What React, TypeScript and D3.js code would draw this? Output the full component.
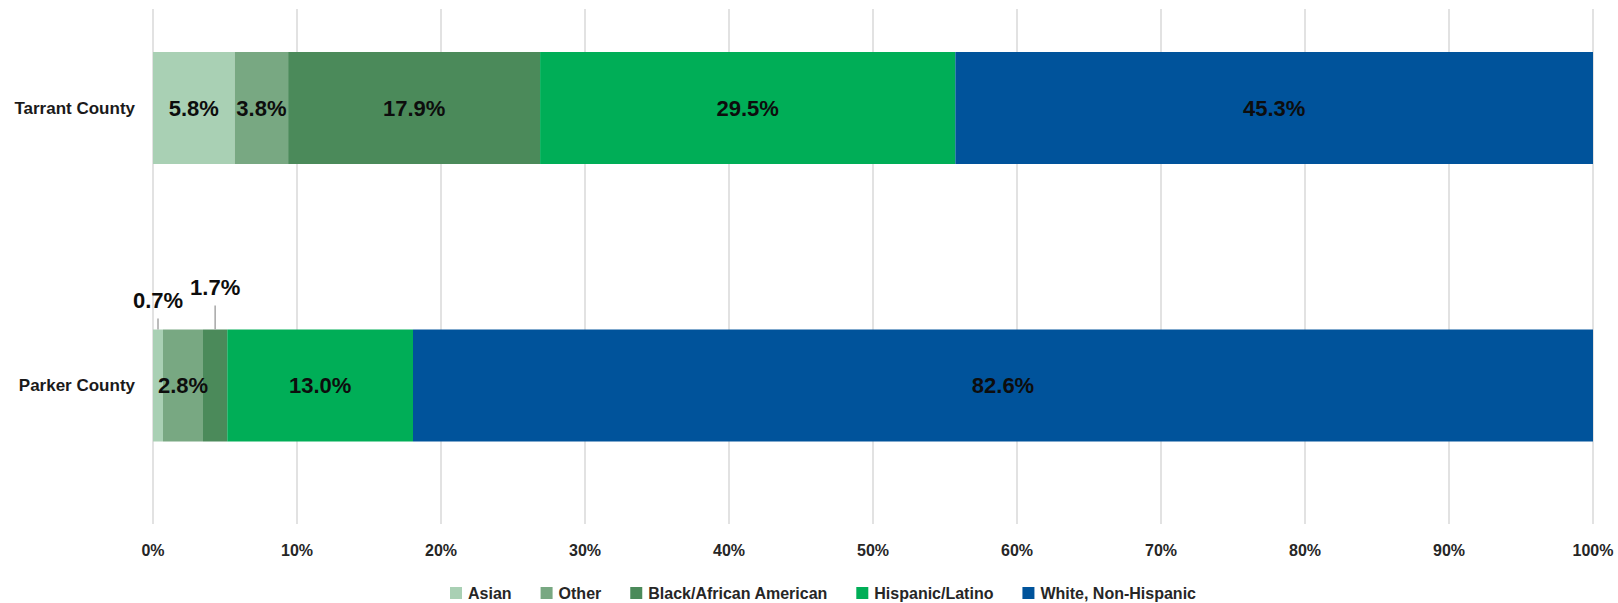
import React, { useEffect, useRef } from 'react';
import * as d3 from 'd3';

// Values (percent of population)
const counties = ["Tarrant County", "Parker County"];
const seriesNames = ["Asian", "Other", "Black/African American", "Hispanic/Latino", "White, Non-Hispanic"];
const asian = [5.8, 0.7];
const other = [3.8, 2.8];
const black = [17.9, 1.7];
const hispanic = [29.5, 13.0];
const white = [45.3, 82.6];
const seriesColors = ["#a9d0b4", "#78a882", "#4b8a5a", "#00ae57", "#00539b"];
const xTickValues = [0, 0.1, 0.2, 0.3, 0.4, 0.5, 0.6, 0.7, 0.8, 0.9, 1];

const App: React.FC = () => {
    const ref = useRef<SVGSVGElement>(null);

    useEffect(() => {
        const svg = d3.select(ref.current);
        svg.selectAll("*").remove();

        const width = 1618;
        const height = 603;
        const plotLeft = 153;
        const plotRight = 1593;
        const gridTop = 9;
        const gridBottom = 524;
        const barHeight = 112;
        const font = "'Liberation Sans', Arial, sans-serif";

        // Build rows for the stack
        const cols = [asian, other, black, hispanic, white];
        const rows = counties.map((c, i) => {
            const row: any = { county: c };
            seriesNames.forEach((s, j) => { row[s] = cols[j][i]; });
            return row;
        });

        // 100% stacked
        const stacked = d3.stack().keys(seriesNames).offset(d3.stackOffsetExpand)(rows);

        const x = d3.scaleLinear().domain([0, 1]).range([plotLeft, plotRight]);
        const y = d3.scalePoint().domain(counties).range([108, 385.5]);
        const color = d3.scaleOrdinal<string>().domain(seriesNames).range(seriesColors);

        svg.attr("viewBox", [0, 0, width, height])
            .style("font-family", font);

        // Vertical gridlines
        svg.append("g")
            .selectAll("line")
            .data(xTickValues)
            .join("line")
            .attr("x1", d => x(d))
            .attr("x2", d => x(d))
            .attr("y1", gridTop)
            .attr("y2", gridBottom)
            .attr("stroke", "#d9d9d9")
            .attr("stroke-width", 1.5);

        // X tick labels
        svg.append("g")
            .selectAll("text")
            .data(xTickValues)
            .join("text")
            .attr("x", d => x(d))
            .attr("y", 550)
            .attr("dy", "0.35em")
            .attr("text-anchor", "middle")
            .attr("font-size", 16)
            .attr("font-weight", "bold")
            .attr("fill", "#262626")
            .text(d => d3.format(".0%")(d));

        // County labels
        svg.append("g")
            .selectAll("text")
            .data(counties)
            .join("text")
            .attr("x", 135)
            .attr("y", d => y(d))
            .attr("dy", "0.35em")
            .attr("text-anchor", "end")
            .attr("font-size", 17)
            .attr("font-weight", "bold")
            .attr("fill", "#1a1a1a")
            .text(d => d);

        // Bars
        const layer = svg.append("g")
            .selectAll("g")
            .data(stacked)
            .join("g")
            .attr("fill", d => color(d.key));

        layer.selectAll("rect")
            .data(d => d)
            .join("rect")
            .attr("x", d => x(d[0]))
            .attr("width", d => x(d[1]) - x(d[0]))
            .attr("y", d => y(d.data.county) - barHeight / 2)
            .attr("height", barHeight);

        // Data labels, small segments get pushed above the bar with a leader line
        const labels: any[] = [];
        stacked.forEach((s) => {
            s.forEach((d: any) => {
                labels.push({
                    key: s.key,
                    county: d.data.county,
                    value: d.data[s.key],
                    cx: (x(d[0]) + x(d[1])) / 2,
                    w: x(d[1]) - x(d[0])
                });
            });
        });
        const lifts = [29, 42];
        const outside = new Map<string, number>();
        counties.forEach(c => {
            let k = 0;
            labels.filter(l => l.county === c && l.w < 30).forEach(l => {
                outside.set(l.county + l.key, lifts[k++ % lifts.length]);
            });
        });

        const labelG = svg.append("g");
        labels.forEach(l => {
            const cy = y(l.county);
            const lift = outside.get(l.county + l.key);
            if (lift === undefined) {
                labelG.append("text")
                    .attr("x", l.cx)
                    .attr("y", cy)
                    .attr("dy", "0.35em")
                    .attr("text-anchor", "middle")
                    .attr("font-size", 22)
                    .attr("font-weight", "bold")
                    .attr("fill", "#0d0d0d")
                    .text(l.value.toFixed(1) + "%");
            } else {
                const barTop = cy - barHeight / 2;
                const ty = barTop - lift;
                labelG.append("line")
                    .attr("x1", l.cx).attr("x2", l.cx)
                    .attr("y1", barTop).attr("y2", ty + 18)
                    .attr("stroke", "#a6a6a6")
                    .attr("stroke-width", 1.5);
                labelG.append("text")
                    .attr("x", l.cx)
                    .attr("y", ty)
                    .attr("dy", "0.35em")
                    .attr("text-anchor", "middle")
                    .attr("font-size", 22)
                    .attr("font-weight", "bold")
                    .attr("fill", "#0d0d0d")
                    .text(l.value.toFixed(1) + "%");
            }
        });

        //////////////////////////////////////////////////////////
        //////                    LEGEND                    //////
        //////////////////////////////////////////////////////////
        const legend = svg.append("g").attr("class", "legend");
        const swatch = 12;
        const textGap = 6;
        const itemGap = 29;
        const legendY = 593;

        const items = legend.selectAll("g")
            .data(seriesNames)
            .join("g");

        items.append("rect")
            .attr("width", swatch)
            .attr("height", swatch)
            .attr("y", legendY - swatch / 2)
            .attr("fill", d => color(d));

        items.append("text")
            .attr("x", swatch + textGap)
            .attr("y", legendY)
            .attr("dy", "0.35em")
            .attr("font-size", 16)
            .attr("font-weight", "bold")
            .attr("fill", "#262626")
            .text(d => d);

        const widths: number[] = [];
        items.selectAll("text").each(function () {
            widths.push((this as SVGTextElement).getComputedTextLength());
        });
        const total = d3.sum(widths, w => swatch + textGap + w) + itemGap * (widths.length - 1);
        let cursor = 823 - total / 2;
        items.attr("transform", (d, i) => {
            const t = `translate(${cursor},0)`;
            cursor += swatch + textGap + widths[i] + itemGap;
            return t;
        });
    }, []);

    return (
        <svg ref={ref} width={1618} height={603}
            style={{ position: 'absolute', left: 0, top: 0, display: 'block', background: '#fff' }} />
    );
};

export default App;
